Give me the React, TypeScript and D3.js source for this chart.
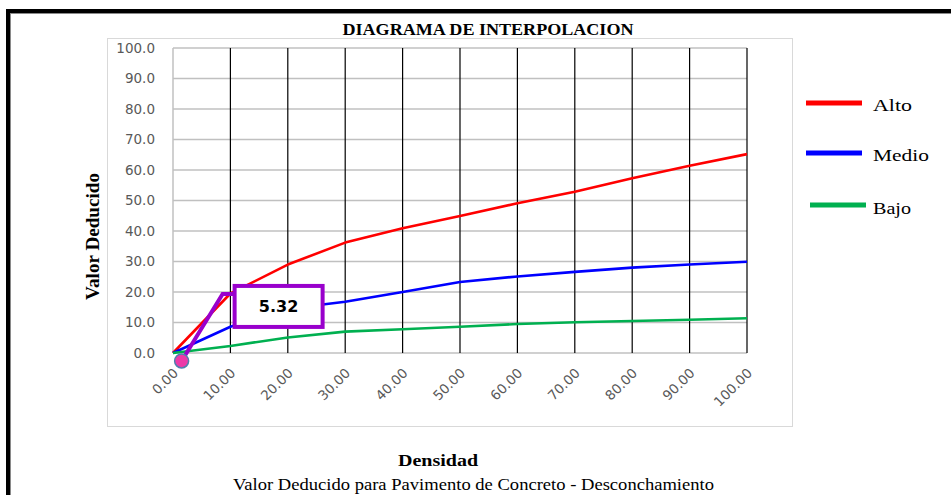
import React from "react";
import * as d3 from "d3";

// Densidad (%) and deduct values per severity level
const densidad = [0, 10, 20, 30, 40, 50, 60, 70, 80, 90, 100];
const alto = [0, 19.5, 29.0, 36.2, 40.9, 44.9, 49.1, 52.9, 57.3, 61.4, 65.2];
const medio = [0, 8.6, 14.5, 16.8, 20.0, 23.3, 25.1, 26.6, 28.0, 29.0, 29.9];
const bajo = [0, 2.3, 5.1, 7.0, 7.8, 8.6, 9.5, 10.1, 10.5, 10.9, 11.4];

const yTicks = [0, 10, 20, 30, 40, 50, 60, 70, 80, 90, 100];
const xTicks = [0, 10, 20, 30, 40, 50, 60, 70, 80, 90, 100];

// Interpolated point and its callout
const puntoDensidad = [1.5];
const puntoValor = [-2.6];
const puntoEtiqueta = ["5.32"];

const seriesNames = ["Alto", "Medio", "Bajo"];
const seriesColors = ["#ff0000", "#0000ff", "#00b050"];

const W = 951;
const H = 495;
const SERIF = "'Liberation Serif', 'Times New Roman', serif";
const SANS = "'DejaVu Sans', sans-serif";

export default function App() {
  const x = d3.scaleLinear().domain([0, 100]).range([173, 747]);
  const y = d3.scaleLinear().domain([0, 100]).range([353, 48]);
  const line = d3
    .line<number>()
    .x((_, i) => x(densidad[i]))
    .y((d) => y(d));

  const series = [alto, medio, bajo];

  const px = x(puntoDensidad[0]);
  const py = y(puntoValor[0]);
  // callout box placement relative to the point
  const boxX = px + 53;
  const boxY = py - 75;
  const boxW = 88;
  const boxH = 41;

  const legendY = [103, 153, 205];
  const legendX0 = [806, 806, 810];

  return (
    <svg
      width={W}
      height={H}
      style={{ position: "absolute", left: 0, top: 0, background: "#fff" }}
    >
      {/* outer frame */}
      <rect x={8} y={11} width={1000} height={1000} fill="none" stroke="#000" strokeWidth={4} />
      <rect x={10.5} y={13.5} width={1000} height={1000} fill="none" stroke="#8a8a8a" strokeWidth={1} />

      {/* title */}
      <text
        x={488}
        y={35}
        textAnchor="middle"
        fontFamily={SERIF}
        fontWeight="bold"
        fontSize={17}
        textLength={291}
        lengthAdjust="spacingAndGlyphs"
      >
        DIAGRAMA DE INTERPOLACION
      </text>

      {/* chart area border */}
      <rect x={107.5} y={38.5} width={685} height={388} fill="#fff" stroke="#d9d9d9" strokeWidth={1} />

      {/* horizontal gridlines */}
      {yTicks.map((t) => (
        <line
          key={"h" + t}
          x1={x(0)}
          x2={x(100)}
          y1={y(t)}
          y2={y(t)}
          stroke="#c0c0c0"
          strokeWidth={1.5}
        />
      ))}
      {/* left axis */}
      <line x1={x(0)} x2={x(0)} y1={y(100)} y2={y(0)} stroke="#c0c0c0" strokeWidth={1.5} />
      {/* vertical gridlines */}
      {xTicks
        .filter((t) => t > 0)
        .map((t) => (
          <line
            key={"v" + t}
            x1={x(t)}
            x2={x(t)}
            y1={y(100)}
            y2={y(0)}
            stroke="#000"
            strokeWidth={1.2}
          />
        ))}

      {/* y tick labels */}
      {yTicks.map((t) => (
        <text
          key={"yl" + t}
          x={155}
          y={y(t)}
          dy="0.36em"
          textAnchor="end"
          fontFamily={SANS}
          fontSize={13.5}
          fill="#595959"
        >
          {t.toFixed(1)}
        </text>
      ))}

      {/* x tick labels */}
      {xTicks.map((t) => (
        <text
          key={"xl" + t}
          transform={`translate(${x(t) + 6},${374}) rotate(-45)`}
          textAnchor="end"
          fontFamily={SANS}
          fontSize={13.5}
          fill="#595959"
        >
          {t.toFixed(2)}
        </text>
      ))}

      {/* series */}
      {series.map((s, i) => (
        <path
          key={seriesNames[i]}
          d={line(s) || ""}
          fill="none"
          stroke={seriesColors[i]}
          strokeWidth={2.6}
          strokeLinejoin="round"
        />
      ))}

      {/* callout leader */}
      <polyline
        points={`${px},${py} ${boxX - 12},${boxY + 8} ${boxX},${boxY + 8}`}
        fill="none"
        stroke="#9900cc"
        strokeWidth={4}
      />
      <rect
        x={boxX}
        y={boxY}
        width={boxW}
        height={boxH}
        fill="#fff"
        stroke="#9900cc"
        strokeWidth={4}
      />
      <text
        x={boxX + boxW / 2}
        y={boxY + boxH / 2}
        dy="0.36em"
        textAnchor="middle"
        fontFamily={SANS}
        fontWeight="bold"
        fontSize={16}
        fill="#000"
      >
        {puntoEtiqueta[0]}
      </text>
      <circle cx={px} cy={py} r={7} fill="#ec3aa8" stroke="#4f7fae" strokeWidth={1.5} />

      {/* legend */}
      {seriesNames.map((n, i) => (
        <g key={"lg" + n}>
          <line
            x1={legendX0[i]}
            x2={legendX0[i] + 56}
            y1={legendY[i]}
            y2={legendY[i]}
            stroke={seriesColors[i]}
            strokeWidth={5}
          />
          <text
            x={873}
            y={legendY[i] + (i === 2 ? 9 : 8)}
            fontFamily={SERIF}
            fontSize={17}
            fill="#000"
            textLength={[39, 56, 38][i]}
            lengthAdjust="spacingAndGlyphs"
          >
            {n}
          </text>
        </g>
      ))}

      {/* axis titles */}
      <text
        transform="translate(99,236.5) rotate(-90)"
        textAnchor="middle"
        fontFamily={SERIF}
        fontWeight="bold"
        fontSize={18.5}
        textLength={127}
        lengthAdjust="spacingAndGlyphs"
      >
        Valor Deducido
      </text>
      <text
        x={438}
        y={466}
        textAnchor="middle"
        fontFamily={SERIF}
        fontWeight="bold"
        fontSize={17.5}
        textLength={80}
        lengthAdjust="spacingAndGlyphs"
      >
        Densidad
      </text>
      <text
        x={473.5}
        y={490}
        textAnchor="middle"
        fontFamily={SERIF}
        fontSize={17.5}
        textLength={481}
        lengthAdjust="spacingAndGlyphs"
      >
        Valor Deducido para Pavimento de Concreto - Desconchamiento
      </text>
    </svg>
  );
}
